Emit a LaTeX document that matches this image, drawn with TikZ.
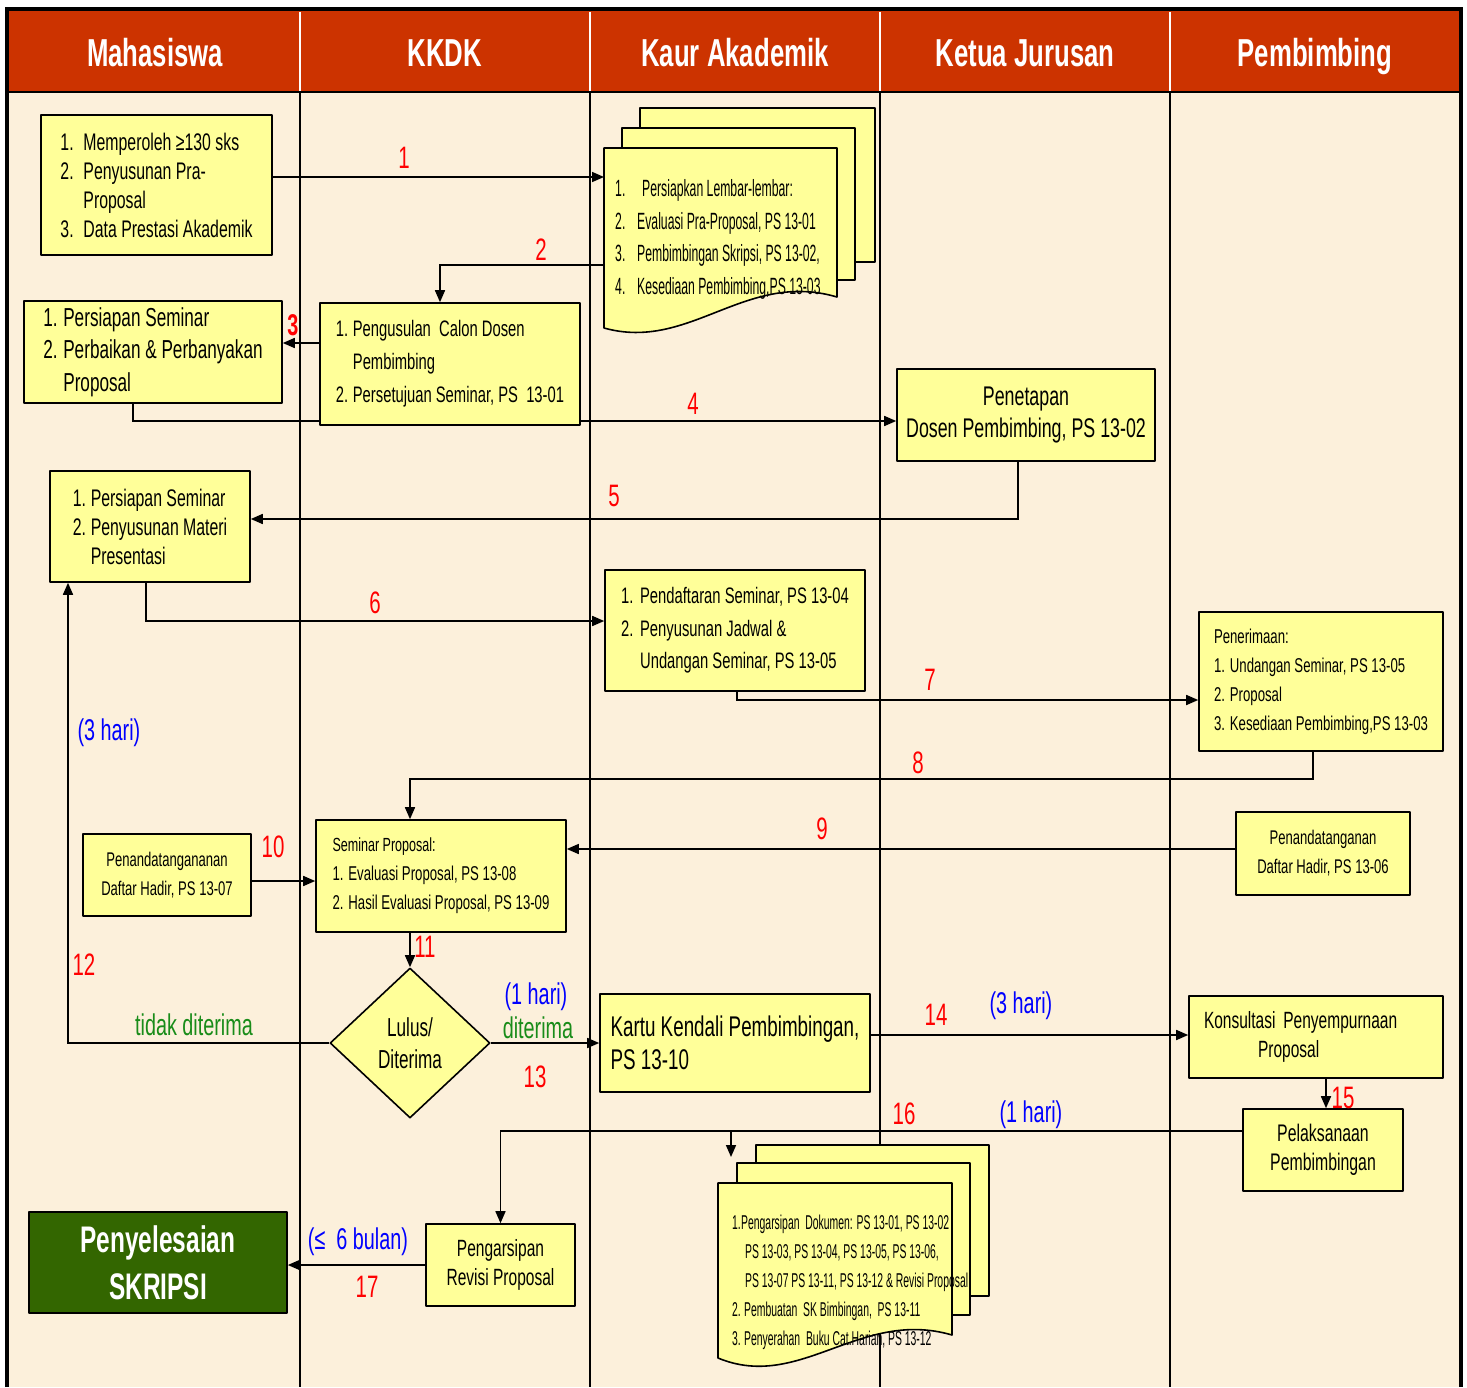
\documentclass[tikz,border=0pt]{standalone}
\usepackage{fontspec}
\setmainfont[FakeStretch=0.66]{Liberation Sans}
\newfontfamily\docfont[FakeStretch=0.52]{Liberation Sans}
\usepackage{tikz}
\usetikzlibrary{arrows.meta}
\usetikzlibrary{shapes.geometric}
\definecolor{lanered}{rgb}{0.8,0.2,0}
\definecolor{paper}{rgb}{0.99,0.94,0.86}
\definecolor{boxyellow}{rgb}{1,1,0.6}
\definecolor{leafgreen}{rgb}{0.2,0.4,0}
\definecolor{okgreen}{rgb}{0.1,0.55,0.1}
\newcommand{\lnum}[2][20pt]{\makebox[#1][l]{#2}}
\pgfdeclarelayer{back}
\pgfdeclarelayer{wires}
\pgfsetlayers{back,wires,main}

\begin{document}
\begin{tikzpicture}[line cap=round,line join=round,>={Triangle[length=12pt,width=10pt]},x=1pt,y=-1pt,
  box/.style={draw=black,line width=1.6pt,fill=boxyellow,inner sep=0pt},
  lbox/.style={box,align=left},
  cbox/.style={box,align=center},
  sheet/.style={draw=black,line width=1.6pt,fill=boxyellow},
  wire/.style={->,line width=1.6pt},
  num/.style={text=red,inner sep=0pt,font=\fontsize{31}{31}\selectfont},
  days/.style={text=blue,inner sep=0pt,font=\fontsize{30}{30}\selectfont},
  verdict/.style={text=okgreen,inner sep=0pt,font=\fontsize{30}{30}\selectfont},
  lanehead/.style={text=white,inner sep=0pt,anchor=base,font=\bfseries\fontsize{39}{39}\selectfont}]
\useasboundingbox (0,0) rectangle (1467,1387);

\begin{pgfonlayer}{back}
\fill[white] (0,0) rectangle (1467,1387);
\fill[paper] (8,8) rectangle (1461,1387);
\fill[lanered] (8,10) rectangle (1461,92);
\foreach \x in {300,590,880,1170} {
  \draw[white,line width=1.2pt] (\x,12) -- (\x,92);
  \draw[black,line width=1.4pt] (\x,92) -- (\x,1387);
}
\draw[line width=2.5pt] (8,92) -- (1461,92);
\draw[line width=4pt,line cap=butt] (7,1387) -- (7,9) -- (1461,9) -- (1461,1387);
\end{pgfonlayer}

\foreach \x/\t/\n in {155/Mahasiswa/hmhs,445/KKDK/hkkdk,735/Kaur Akademik/hkaur,1025/Ketua Jurusan/hkajur,1315/Pembimbing/hpemb}
  \node[lanehead] (\n) at (\x,66) {\t};

\node[lbox,minimum width=231pt,minimum height=140pt,font=\fontsize{24}{29}\selectfont] (a1) at (156.5,185)
  {\lnum[23pt]{1.}Memperoleh ≥130 sks\\\lnum[23pt]{2.}Penyusunan Pra-\\\hspace*{23pt}Proposal\\\lnum[23pt]{3.}Data Prestasi Akademik};

\draw[sheet] (640,108) rectangle (875,262);
\draw[sheet] (622,128) rectangle (855,280);
\draw[sheet] (604,148) -- (837,148) -- (837,297) .. controls (745,270) and (690,352) .. (604,328) -- cycle;
\coordinate (d1l) at (604,236);
\node[anchor=west,align=left,inner sep=0pt,font=\docfont\fontsize{23.5}{32.5}\selectfont] (d1) at (615,239.5)
  {\lnum[27pt]{1.}Persiapkan Lembar-lembar:\\\lnum[22pt]{2.}Evaluasi Pra-Proposal, PS 13-01\\\lnum[22pt]{3.}Pembimbingan Skripsi, PS 13-02,\\\lnum[22pt]{4.}Kesediaan Pembimbing,PS 13-03};

\node[lbox,minimum width=258pt,minimum height=102pt,font=\fontsize{26}{32.5}\selectfont] (m2) at (153,352)
  {\lnum[20pt]{1.}Persiapan Seminar\\\lnum[20pt]{2.}Perbaikan \& Perbanyakan\\\hspace*{20pt}Proposal};
\node[lbox,minimum width=260pt,minimum height=122pt,font=\fontsize{22.4}{33}\selectfont] (k1) at (450,364)
  {\lnum[17pt]{1.}Pengusulan\ \ Calon Dosen\\\hspace*{17pt}Pembimbing\\\lnum[17pt]{2.}Persetujuan Seminar, PS\ \ 13-01};
\node[cbox,minimum width=258pt,minimum height=92pt,font=\fontsize{27}{32}\selectfont] (kj1) at (1026,415)
  {Penetapan\\Dosen Pembimbing, PS 13-02};
\node[lbox,minimum width=200pt,minimum height=111pt,font=\fontsize{24}{29}\selectfont] (m3) at (150,526.5)
  {\lnum[18pt]{1.}Persiapan Seminar\\\lnum[18pt]{2.}Penyusunan Materi\\\hspace*{18pt}Presentasi};
\node[lbox,minimum width=260pt,minimum height=121pt,font=\fontsize{22.4}{32.5}\selectfont] (ka2) at (735,630.5)
  {\lnum[19pt]{1.}Pendaftaran Seminar, PS 13-04\\\lnum[19pt]{2.}Penyusunan Jadwal \&\\\hspace*{19pt}Undangan Seminar, PS 13-05};
\node[lbox,minimum width=244pt,minimum height=139pt,font=\fontsize{20}{29}\selectfont] (p1) at (1321,681.5)
  {Penerimaan:\\1. Undangan Seminar, PS 13-05\\2. Proposal\\3. Kesediaan Pembimbing,PS 13-03};
\node[lbox,minimum width=250pt,minimum height=112pt,font=\fontsize{20}{29}\selectfont] (k2) at (441,876)
  {{\fontsize{19}{29}\selectfont Seminar Proposal:}\\1. Evaluasi Proposal, PS 13-08\\2. Hasil Evaluasi Proposal, PS 13-09};
\node[cbox,minimum width=168pt,minimum height=82pt,font=\fontsize{19.8}{29}\selectfont] (m4) at (167,875)
  {Penandatangananan\\Daftar Hadir, PS 13-07};
\node[cbox,minimum width=174pt,minimum height=83pt,font=\fontsize{19.8}{29}\selectfont] (p2) at (1323,853.5)
  {Penandatanganan\\Daftar Hadir, PS 13-06};
\node[cbox,diamond,minimum width=160pt,minimum height=150pt,font=\fontsize{26}{32}\selectfont] (dec) at (410,1043)
  {Lulus/\\Diterima};
\node[lbox,minimum width=270pt,minimum height=98pt,font=\fontsize{28.5}{33}\selectfont] (ka3) at (735,1043)
  {Kartu Kendali Pembimbingan,\\PS 13-10};
\node[lbox,text width=224pt,inner xsep=15pt,minimum height=82pt,font=\fontsize{23.5}{29}\selectfont] (p3) at (1316,1037)
  {Konsultasi Penyempurnaan\\\hspace*{54pt}Proposal};
\node[cbox,minimum width=160pt,minimum height=82pt,font=\fontsize{24}{29}\selectfont] (p4) at (1323,1150)
  {Pelaksanaan\\Pembimbingan};

\draw[sheet] (756,1145) rectangle (989,1296);
\draw[sheet] (737,1163) rectangle (970,1315);
\draw[sheet] (718,1183) -- (952,1183) -- (952,1335) .. controls (860,1308) and (800,1392) .. (718,1358) -- cycle;
\coordinate (d2top) at (731,1157);
\coordinate (j16) at (731,1131);
\node[anchor=west,align=left,inner sep=0pt,font=\docfont\fontsize{20}{29}\selectfont] (d2) at (732,1282)
  {\lnum[9pt]{1.}Pengarsipan\ \ Dokumen: PS 13-01, PS 13-02\\\hspace*{13pt}PS 13-03, PS 13-04, PS 13-05, PS 13-06,\\\hspace*{13pt}PS 13-07 PS 13-11, PS 13-12 \& Revisi Proposal\\\lnum[12pt]{2.}Pembuatan\ \ SK Bimbingan,\ \ PS 13-11\\\lnum[12pt]{3.}Penyerahan\ \ Buku Cat.Harian, PS 13-12};

\node[cbox,minimum width=149pt,minimum height=82pt,font=\fontsize{23.5}{29}\selectfont] (k3) at (500.5,1265)
  {Pengarsipan\\Revisi Proposal};
\node[cbox,fill=leafgreen,text=white,minimum width=258pt,minimum height=101pt,font=\bfseries\fontsize{37}{47}\selectfont] (m5) at (158,1262.5)
  {Penyelesaian\\SKRIPSI};

\begin{pgfonlayer}{wires}
\draw[wire] ([yshift=8pt]a1.east) -- ([yshift=8pt]a1.east -| d1l);
\draw[wire] (d1l |- 0,265) -| ([xshift=-10pt]k1.north);
\draw[wire] ([yshift=21pt]k1.west) -- ([yshift=21pt]k1.west -| m2.east);
\draw[wire] ([xshift=-20pt]m2.south) |- ([yshift=-6pt]kj1.west);
\draw[wire] ([xshift=-8pt]kj1.south) |- ([yshift=7.5pt]m3.east);
\draw[wire] ([xshift=-4pt]m3.south) |- ([yshift=9.5pt]ka2.west);
\draw[wire] ([xshift=2pt]ka2.south) |- ([yshift=-18.5pt]p1.west);
\draw[wire] ([xshift=-8pt]p1.south) -- ++(0,27) -| ([xshift=-31pt]k2.north);
\draw[wire] ([yshift=4.5pt]p2.west) -- ([yshift=4.5pt]p2.west -| k2.east);
\draw[wire] ([yshift=-6pt]m4.east) -- ([yshift=-6pt]m4.east -| k2.west);
\draw[wire] (k2.south -| dec.north) -- (dec.north);
\draw[wire] (dec.west) -| ([xshift=-82pt]m3.south);
\draw[wire] (dec.east) -- (ka3.west);
\draw[wire] ([yshift=8pt]ka3.east) -- ([yshift=8pt]ka3.east -| p3.west);
\draw[wire] ([xshift=10pt]p3.south) -- ([xshift=10pt]p3.south |- p4.north);
\draw[wire] ([yshift=19pt]p4.west) -| (k3.north);
\draw[wire] (j16) -- (d2top);
\draw[wire] (k3.west) -- (k3.west -| m5.east);
\end{pgfonlayer}

\node[num] (l1) at (404,158) {1};
\node[num] (l2) at (541,250) {2};
\node[num,font=\bfseries\fontsize{30}{30}\selectfont] (l3) at (293,325) {3};
\node[num] (l4) at (693,404) {4};
\node[num] (l5) at (614,496) {5};
\node[num] (l6) at (375,603) {6};
\node[num] (l7) at (930,680) {7};
\node[num] (l8) at (918,763) {8};
\node[num] (l9) at (822,829) {9};
\node[num] (l10) at (273,847) {10};
\node[num] (l11) at (425,947) {11};
\node[num] (l12) at (84,965) {12};
\node[num] (l13) at (535,1077) {13};
\node[num] (l14) at (936,1015) {14};
\node[num] (l15) at (1343,1098) {15};
\node[num] (l16) at (904,1114) {16};
\node[num] (l17) at (367,1287) {17};
\node[days] (t12) at (109,733) {(3 hari)};
\node[days] (t13) at (536,997) {(1 hari)};
\node[days] (t14) at (1021,1006) {(3 hari)};
\node[days] (t16) at (1031,1115) {(1 hari)};
\node[days] (t17) at (358,1242) {(≤\ \ 6 bulan)};
\node[verdict] (v12) at (194,1025) {tidak diterima};
\node[verdict] (v13) at (538,1028) {diterima};
\end{tikzpicture}
\end{document}
